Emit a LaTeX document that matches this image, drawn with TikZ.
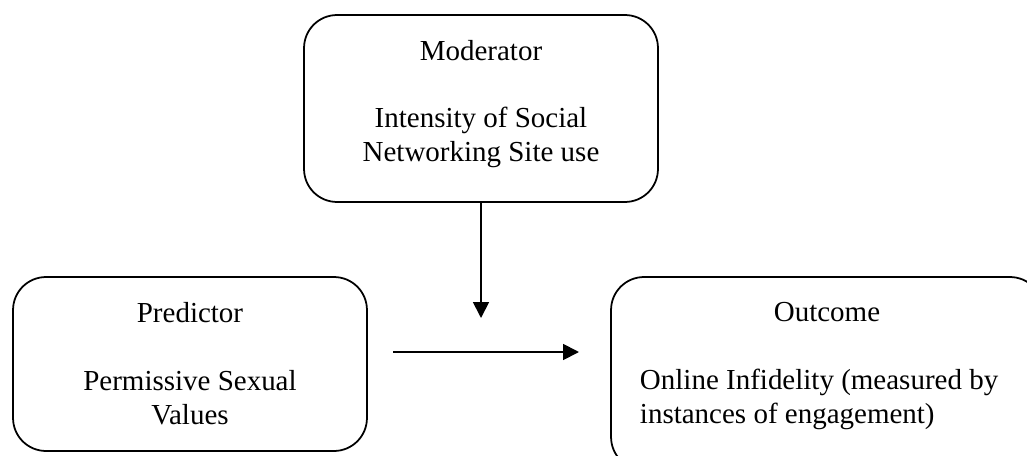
\documentclass[tikz,border=0pt]{standalone}
\usepackage{fontspec}
\setmainfont{Liberation Serif}
\usepackage{tikz}
\usetikzlibrary{arrows.meta, positioning}

\begin{document}
\begin{tikzpicture}[
    x=0.02cm, y=-0.02cm,
    box/.style={draw, line width=1pt, rounded corners=0.66cm, align=center, inner sep=0pt,
        font=\fontsize{16.5}{19.3}\selectfont},
    link/.style={-{Triangle[length=9pt, width=9pt]}, line width=1pt}
]
    \useasboundingbox (0,0) rectangle (1027,456);
    \clip (0,0) rectangle (1027,456);

    % Main entities
    \node[box, minimum width=7.08cm, minimum height=3.74cm, text depth=8.7pt] (moderator) at (481,108.5)
        {Moderator\\ \\Intensity of Social\\Networking Site use};
    \node[box, minimum width=7.08cm, minimum height=3.48cm] (predictor) at (190,364)
        {Predictor\\ \\Permissive Sexual\\Values};
    \node[box, minimum width=8.64cm, minimum height=3.86cm, text depth=14.8pt] (outcome) at (827,373.5)
        {\begin{tabular}[b]{@{}l@{\hspace{9pt}}}
            \multicolumn{1}{@{}c@{}}{Outcome}\\ \\
            Online Infidelity (measured by\\
            instances of engagement)
        \end{tabular}};

    % Arrow ends
    \coordinate (modtip) at (481,318);
    \coordinate (linkstart) at (393,352);
    \coordinate (linkend) at (579,352);

    % Relationships
    \draw[link] (moderator) -- (modtip);
    \draw[link] (linkstart) -- (linkend);
\end{tikzpicture}
\end{document}
